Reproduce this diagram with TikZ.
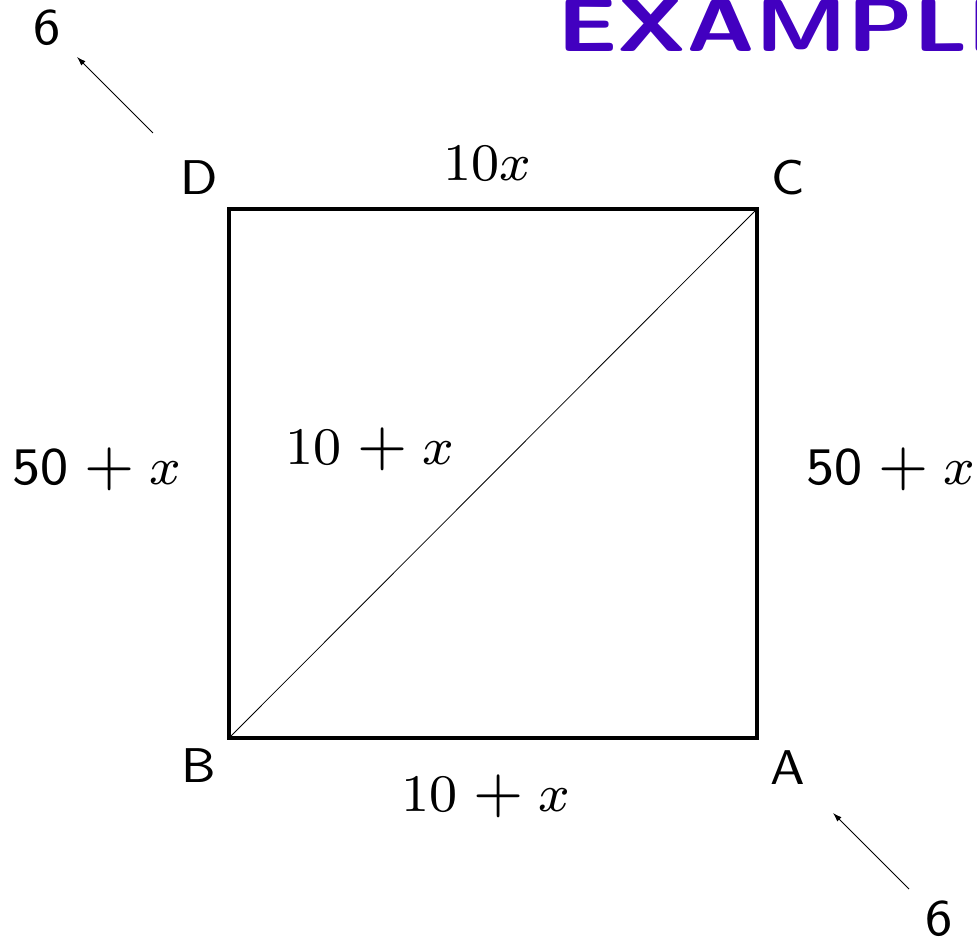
\documentclass[tikz,border=0pt]{standalone}
\usepackage{graphicx}
\usetikzlibrary{arrows.meta}
\definecolor{titlepurple}{RGB}{66,0,192}
\newcommand{\pls}{\mathrel{\scalebox{1.15}{$+$}}}
\newcommand{\mathbig}[1]{\scalebox{6.6}{\footnotesize #1}}
\newcommand{\letterbig}[1]{\scalebox{6.1}{\footnotesize\sffamily #1}}
\newcommand{\sixbig}[1]{\scalebox{6.4}{\footnotesize\sffamily #1}}
\begin{document}
\begin{tikzpicture}[x=1pt,y=1pt,
  lbl/.style={inner sep=0pt, anchor=base},
  sqedge/.style={line width=4.8pt, line join=miter},
  diagline/.style={line width=0.8pt},
  ptr/.style={line width=0.9pt, -{Latex[length=9pt,width=6pt]}}]
\useasboundingbox (0,0) rectangle (977,941);
\clip (0,0) rectangle (977,941);
% corners
\coordinate (B) at (229,203);
\coordinate (A) at (757,203);
\coordinate (C) at (757,732);
\coordinate (D) at (229,732);
% square and diagonal
\draw[diagline] (B) -- (C);
\draw[sqedge] (B) -- (A) -- (C) -- (D) -- cycle;
% corner labels
\node[lbl] (lD) at (199,746) {\letterbig{D}};
\node[lbl] (lC) at (788,746) {\letterbig{C}};
\node[lbl] (lB) at (199,158) {\letterbig{B}};
\node[lbl] (lA) at (788,156) {\letterbig{A}};
% side labels
\node[lbl] (top) at (487,760) {\mathbig{$10x$}};
\node[lbl] (left) at (97,456) {\mathbig{$\mathsf{50}\pls x$}};
\node[lbl] (right) at (891,456) {\mathbig{$\mathsf{50}\pls x$}};
\node[lbl] (diag) at (370,476) {\mathbig{$10\pls x$}};
\node[lbl] (bottom) at (486,129) {\mathbig{$10\pls x$}};
% the sixes and pointers
\node[lbl] (six1) at (47,896) {\sixbig{6}};
\node[lbl] (six2) at (939,5) {\sixbig{6}};
\coordinate (p1s) at (153,808);
\coordinate (p1e) at (77,884);
\coordinate (p2s) at (909,52);
\coordinate (p2e) at (833,128);
\draw[ptr] (p1s) -- (p1e);
\draw[ptr] (p2s) -- (p2e);
% title
\node[anchor=base west, inner sep=0pt, text=titlepurple] (title) at (557,889)
      {\scalebox{9.4}[7.5]{\sffamily\bfseries EXAMPLE}};
\end{tikzpicture}
\end{document}
